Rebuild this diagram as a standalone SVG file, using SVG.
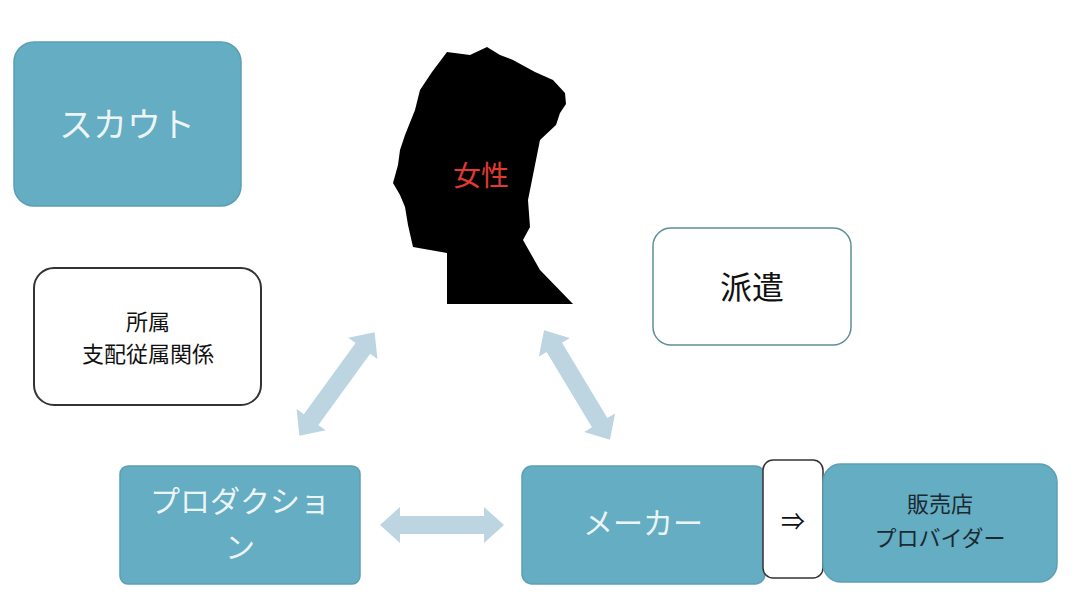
<svg xmlns="http://www.w3.org/2000/svg" width="1080" height="606" viewBox="0 0 1080 606">
<style>
.t{fill:#65adc2;stroke:#5c9fb3;stroke-width:1.5}
.w{fill:#fff;stroke:#333;stroke-width:2}
.wt{fill:#fff;fill-opacity:0.9;font-family:"Noto Sans CJK JP",sans-serif;text-anchor:middle}
.k{fill:#111;font-family:"Noto Sans CJK JP",sans-serif;text-anchor:middle}
.a{fill:#bcd5e1}
</style>
<rect width="1080" height="606" fill="#fff"/>
<g id="head">
<path d="M447,52 L470,55 L487,47 L500,55 L513,60 L535,72 L553,80 L565,93 L566,104 L560,113 L556,125 L540,140 L535,165 L528,200 L530,227 L523,240 L540,270 L573,304 L447,304 L447,253 L430,250 L413,247 L408,225 L405,207 L400,195 L393,183 L398,165 L400,150 L405,135 L415,110 L420,90 L432,72 Z" fill="#000"/>
<text x="481" y="186" style="fill:#e03a32;font-family:'Noto Sans CJK JP',sans-serif;font-size:28px;text-anchor:middle">女性</text>
</g>
<g id="scout"><rect class="t" x="14" y="42" width="227" height="164" rx="20"/><text class="wt" x="127" y="137" font-size="34">スカウト</text></g>
<g id="shozoku"><rect class="w" x="34" y="268" width="227" height="137" rx="20"/><text class="k" x="148" y="330" font-size="22">所属</text><text class="k" x="148" y="362" font-size="22">支配従属関係</text></g>
<g id="haken"><rect x="653" y="228" width="198" height="117" rx="18" fill="#fff" stroke="#5f8f96" stroke-width="1.5"/><text class="k" x="752" y="299" font-size="32">派遣</text></g>
<g id="production"><rect class="t" x="120" y="466" width="240" height="118" rx="8"/><text class="wt" x="240" y="512" font-size="30">プロダクショ</text><text class="wt" x="240" y="558" font-size="30">ン</text></g>
<g id="maker"><rect class="t" x="522" y="466" width="243" height="118" rx="10"/><text class="wt" x="643" y="534" font-size="30">メーカー</text></g>
<g id="arrowbox"><rect x="763" y="460" width="60" height="118" rx="10" fill="#fff" stroke="#333" stroke-width="1.5"/><text class="k" x="793" y="530" font-size="24">⇒</text></g>
<g id="shop"><rect class="t" x="823" y="464" width="234" height="118" rx="18"/><text class="k" x="940" y="512" font-size="22" style="fill:#1a2a30">販売店</text><text class="k" x="940" y="546" font-size="22" style="fill:#1a2a30">プロバイダー</text></g>
<g id="connectors">
<polygon class="a" transform="translate(337,384) rotate(-54)" points="-64,0 -44,-18 -44,-9 44,-9 44,-18 64,0 44,18 44,9 -44,9 -44,18"/>
<polygon class="a" transform="translate(577,385) rotate(59)" points="-64,0 -44,-18 -44,-9 44,-9 44,-18 64,0 44,18 44,9 -44,9 -44,18"/>
<polygon class="a" transform="translate(442,525)" points="-62,0 -42,-18 -42,-9 42,-9 42,-18 62,0 42,18 42,9 -42,9 -42,18"/>
</g>
</svg>
